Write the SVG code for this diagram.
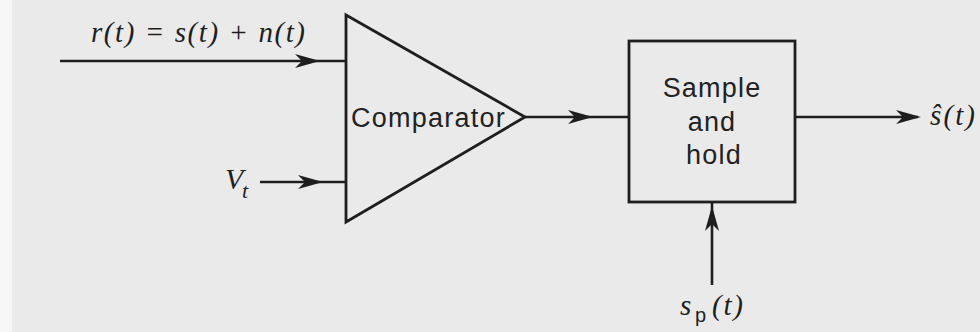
<svg xmlns="http://www.w3.org/2000/svg" width="980" height="332" viewBox="0 0 980 332">
<style>
.ln{stroke:#1e1e1e;stroke-width:2.6;fill:none}
.sh{stroke:#1e1e1e;stroke-width:2.8;fill:none;stroke-linejoin:miter}
.lbl{font-family:"Liberation Sans",Arial,sans-serif;font-size:27px;fill:#222;letter-spacing:1.2px}
.math{font-family:"Liberation Serif","Times New Roman",serif;font-style:italic;font-size:29px;fill:#1e1e1e}
.sub{font-family:"Liberation Sans",Arial,sans-serif;font-size:20px;fill:#1e1e1e}
.ah{fill:#1e1e1e}
</style>
<defs>
<path id="ah" d="M0,0 L-25,-7 L-18,0 L-25,7 Z"/>
</defs>
<rect x="0" y="0" width="980" height="332" fill="#eaeaea"/>
<rect x="0" y="0" width="12" height="332" fill="#f7f7f7"/>

<g id="connectors">
<line class="ln" x1="60" y1="61" x2="346" y2="61"/>
<use href="#ah" class="ah" transform="translate(320,61)"/>
<line class="ln" x1="260" y1="182" x2="346" y2="182"/>
<use href="#ah" class="ah" transform="translate(323,182)"/>
<line class="ln" x1="525" y1="117" x2="629" y2="117"/>
<use href="#ah" class="ah" transform="translate(593,117)"/>
<line class="ln" x1="795" y1="117" x2="918" y2="117"/>
<use href="#ah" class="ah" transform="translate(921,117)"/>
<line class="ln" x1="712" y1="285" x2="712" y2="202"/>
<use href="#ah" class="ah" transform="translate(712,206) rotate(-90)"/>
</g>

<g id="input-r">
<text class="math" x="91" y="42" textLength="214" lengthAdjust="spacing">r(t) = s(t) + n(t)</text>
</g>

<g id="input-vt">
<text class="math" x="225" y="189" style="font-size:30px">V</text>
<text class="math" x="242" y="198" style="font-size:22px">t</text>
</g>

<g id="comparator">
<polygon class="sh" points="346,15 525,117 346,222"/>
<text class="lbl" x="351" y="127" textLength="155" lengthAdjust="spacing">Comparator</text>
</g>

<g id="sample-hold">
<rect class="sh" x="629" y="41" width="166" height="161"/>
<text class="lbl" x="712" y="97" text-anchor="middle">Sample</text>
<text class="lbl" x="712" y="131" text-anchor="middle">and</text>
<text class="lbl" x="714" y="164" text-anchor="middle">hold</text>
</g>

<g id="output">
<text class="math" x="930" y="125" textLength="45" lengthAdjust="spacing">ŝ(t)</text>
</g>

<g id="sampling">
<text class="math" x="680" y="315">s</text>
<text class="sub" x="695" y="322">p</text>
<text class="math" x="712" y="315" textLength="31" lengthAdjust="spacing">(t)</text>
</g>
</svg>
